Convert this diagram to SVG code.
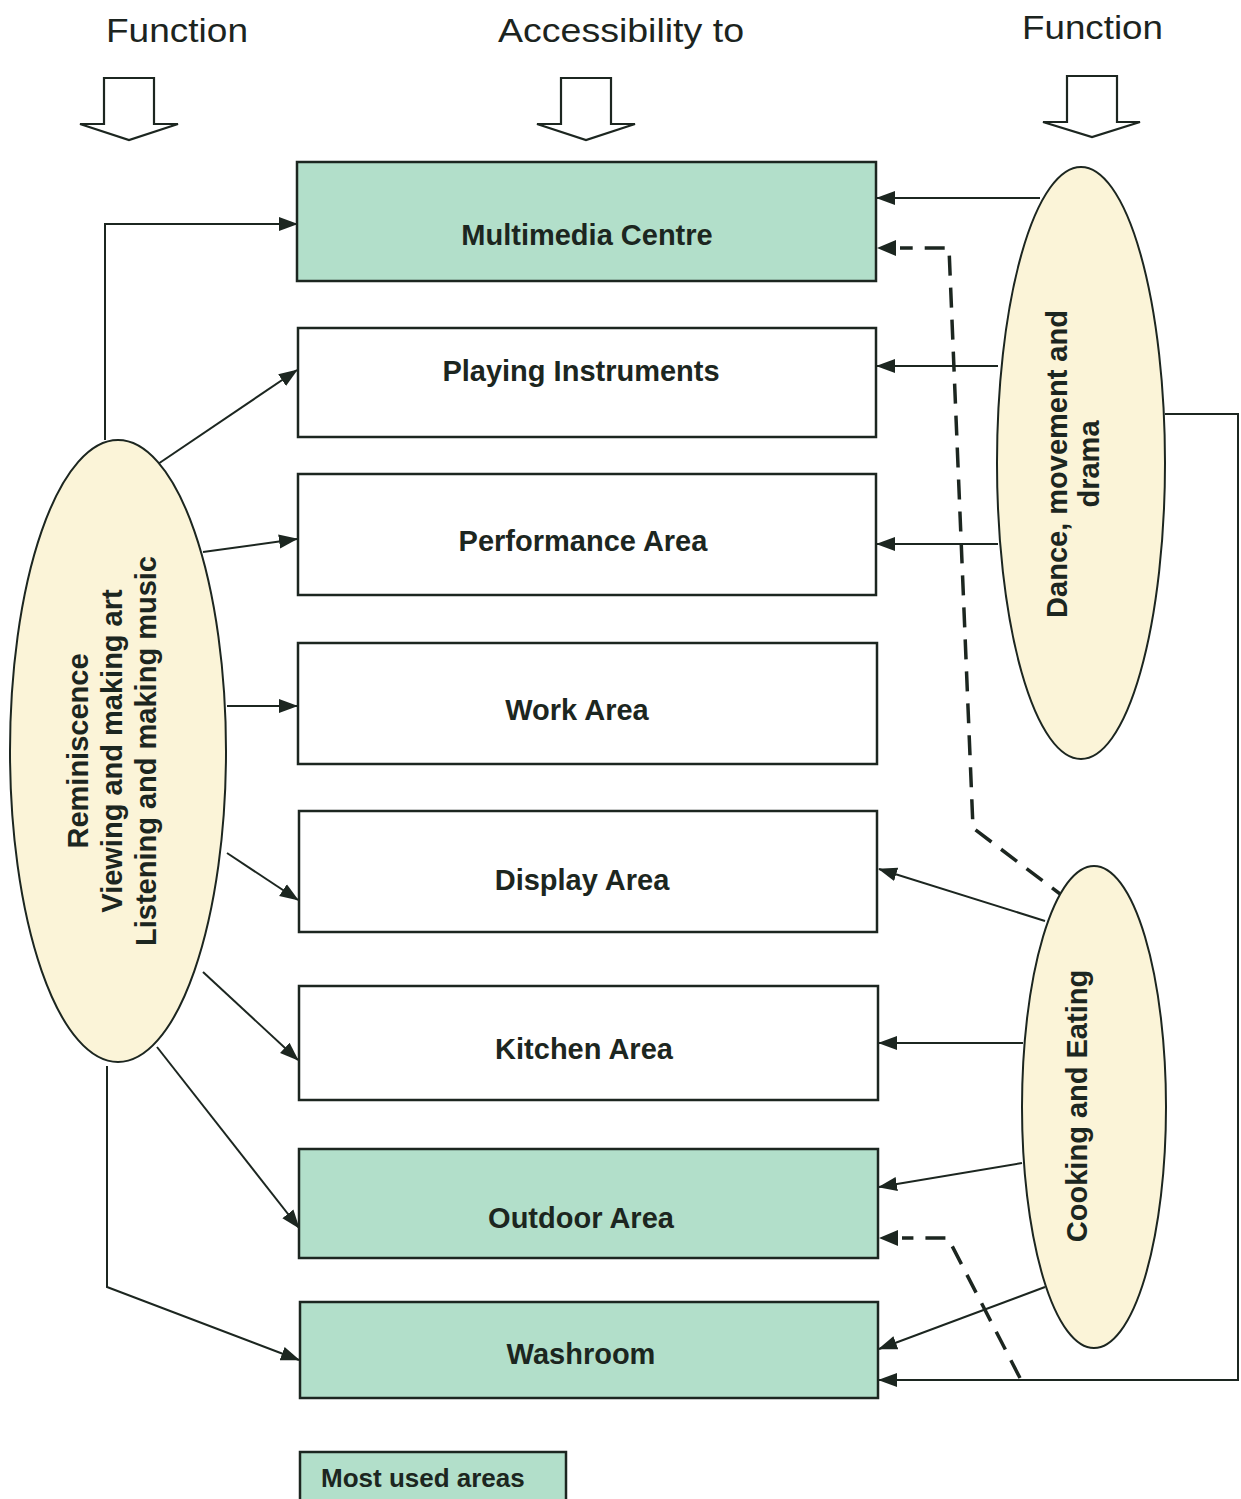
<svg xmlns="http://www.w3.org/2000/svg" width="1241" height="1499" viewBox="0 0 1241 1499">
<style>
.title{font-family:"Liberation Sans",Arial,sans-serif;font-size:34px;fill:#1c2420}
.lbl{font-family:"Liberation Sans",Arial,sans-serif;font-size:29px;font-weight:bold;fill:#1c2620;text-anchor:middle}
.box{stroke:#1c2620;stroke-width:2.5;fill:#ffffff}
.green{fill:#b2dfca}
.ell{fill:#fbf4d8;stroke:#1c2620;stroke-width:2}
.con{fill:none;stroke:#1c2620;stroke-width:2}
.dash{fill:none;stroke:#1c2620;stroke-width:3.5;stroke-dasharray:20 12}
.blk{fill:#ffffff;stroke:#1c2620;stroke-width:2.2;stroke-linejoin:miter}
</style>
<defs>
<marker id="ah" markerWidth="20" markerHeight="16" refX="18" refY="8" orient="auto" markerUnits="userSpaceOnUse">
<path d="M0,1 L19,8 L0,15 Z" fill="#1c2620"/>
</marker>
</defs>
<rect width="1241" height="1499" fill="#ffffff"/>

<g id="headers">
<text class="title" x="106" y="42" textLength="142" lengthAdjust="spacingAndGlyphs">Function</text>
<text class="title" x="498" y="42" textLength="246" lengthAdjust="spacingAndGlyphs">Accessibility to</text>
<text class="title" x="1022" y="39" textLength="141" lengthAdjust="spacingAndGlyphs">Function</text>
<path class="blk" d="M104,78 H154 V124 H178 L129,140 L80,124 H104 Z"/>
<path class="blk" d="M561,78 H611 V124 H635 L586,140 L537,124 H561 Z"/>
<path class="blk" d="M1067,76 H1117 V122 H1140 L1092,137 L1043,122 H1067 Z"/>
</g>

<g id="connectors">
<polyline class="con" points="105,440 105,224 297,224" marker-end="url(#ah)"/>
<line class="con" x1="155" y1="466" x2="297" y2="370" marker-end="url(#ah)"/>
<line class="con" x1="203" y1="552" x2="297" y2="539" marker-end="url(#ah)"/>
<line class="con" x1="227" y1="706" x2="297" y2="706" marker-end="url(#ah)"/>
<line class="con" x1="227" y1="853" x2="298" y2="900" marker-end="url(#ah)"/>
<line class="con" x1="203" y1="972" x2="298" y2="1060" marker-end="url(#ah)"/>
<line class="con" x1="157" y1="1047" x2="299" y2="1228" marker-end="url(#ah)"/>
<polyline class="con" points="107,1066 107,1287 299,1360" marker-end="url(#ah)"/>

<line class="con" x1="1040" y1="198" x2="877" y2="198" marker-end="url(#ah)"/>
<line class="con" x1="998" y1="366" x2="877" y2="366" marker-end="url(#ah)"/>
<line class="con" x1="998" y1="544" x2="877" y2="544" marker-end="url(#ah)"/>
<polyline class="con" points="1165,414 1238,414 1238,1380 879,1380" marker-end="url(#ah)"/>
<line class="con" x1="1045" y1="921" x2="879" y2="869" marker-end="url(#ah)"/>
<line class="con" x1="1023" y1="1043" x2="879" y2="1043" marker-end="url(#ah)"/>
<line class="con" x1="1022" y1="1163" x2="879" y2="1187" marker-end="url(#ah)"/>
<line class="con" x1="1045" y1="1287" x2="879" y2="1349" marker-end="url(#ah)"/>

<polyline class="dash" points="1068,900 973,828 949,248 900,248"/>
<path d="M877,248 L896,240 L896,256 Z" fill="#1c2620"/>
<polyline class="dash" points="1020,1378 948,1238 902,1238"/>
<path d="M879,1238 L898,1230 L898,1246 Z" fill="#1c2620"/>
</g>

<g id="multimedia-centre"><rect class="box green" x="297" y="162" width="579" height="119"/><text class="lbl" x="587" y="245">Multimedia Centre</text></g>
<g id="playing-instruments"><rect class="box" x="298" y="328" width="578" height="109"/><text class="lbl" x="581" y="381">Playing Instruments</text></g>
<g id="performance-area"><rect class="box" x="298" y="474" width="578" height="121"/><text class="lbl" x="583" y="551">Performance Area</text></g>
<g id="work-area"><rect class="box" x="298" y="643" width="579" height="121"/><text class="lbl" x="577" y="720">Work Area</text></g>
<g id="display-area"><rect class="box" x="299" y="811" width="578" height="121"/><text class="lbl" x="582" y="890">Display Area</text></g>
<g id="kitchen-area"><rect class="box" x="299" y="986" width="579" height="114"/><text class="lbl" x="584" y="1059">Kitchen Area</text></g>
<g id="outdoor-area"><rect class="box green" x="299" y="1149" width="579" height="109"/><text class="lbl" x="581" y="1228">Outdoor Area</text></g>
<g id="washroom"><rect class="box green" x="300" y="1302" width="578" height="96"/><text class="lbl" x="581" y="1364">Washroom</text></g>

<g id="function-left">
<ellipse class="ell" cx="118" cy="751" rx="108" ry="311"/>
<text class="lbl" transform="translate(88,751) rotate(-90)" x="0" y="0">Reminiscence</text>
<text class="lbl" transform="translate(122,751) rotate(-90)" x="0" y="0">Viewing and making art</text>
<text class="lbl" transform="translate(156,751) rotate(-90)" x="0" y="0">Listening and making music</text>
</g>

<g id="function-dance">
<ellipse class="ell" cx="1081" cy="463" rx="84" ry="296"/>
<text class="lbl" transform="translate(1067,464) rotate(-90)" x="0" y="0">Dance, movement and</text>
<text class="lbl" transform="translate(1099,464) rotate(-90)" x="0" y="0">drama</text>
</g>

<g id="function-cooking">
<ellipse class="ell" cx="1094" cy="1107" rx="72" ry="241"/>
<text class="lbl" transform="translate(1087,1106) rotate(-90)" x="0" y="0">Cooking and Eating</text>
</g>

<g id="legend">
<rect class="box green" x="300" y="1452" width="266" height="55"/>
<text class="lbl" x="321" y="1487" style="text-anchor:start;font-size:26px">Most used areas</text>
</g>
</svg>
